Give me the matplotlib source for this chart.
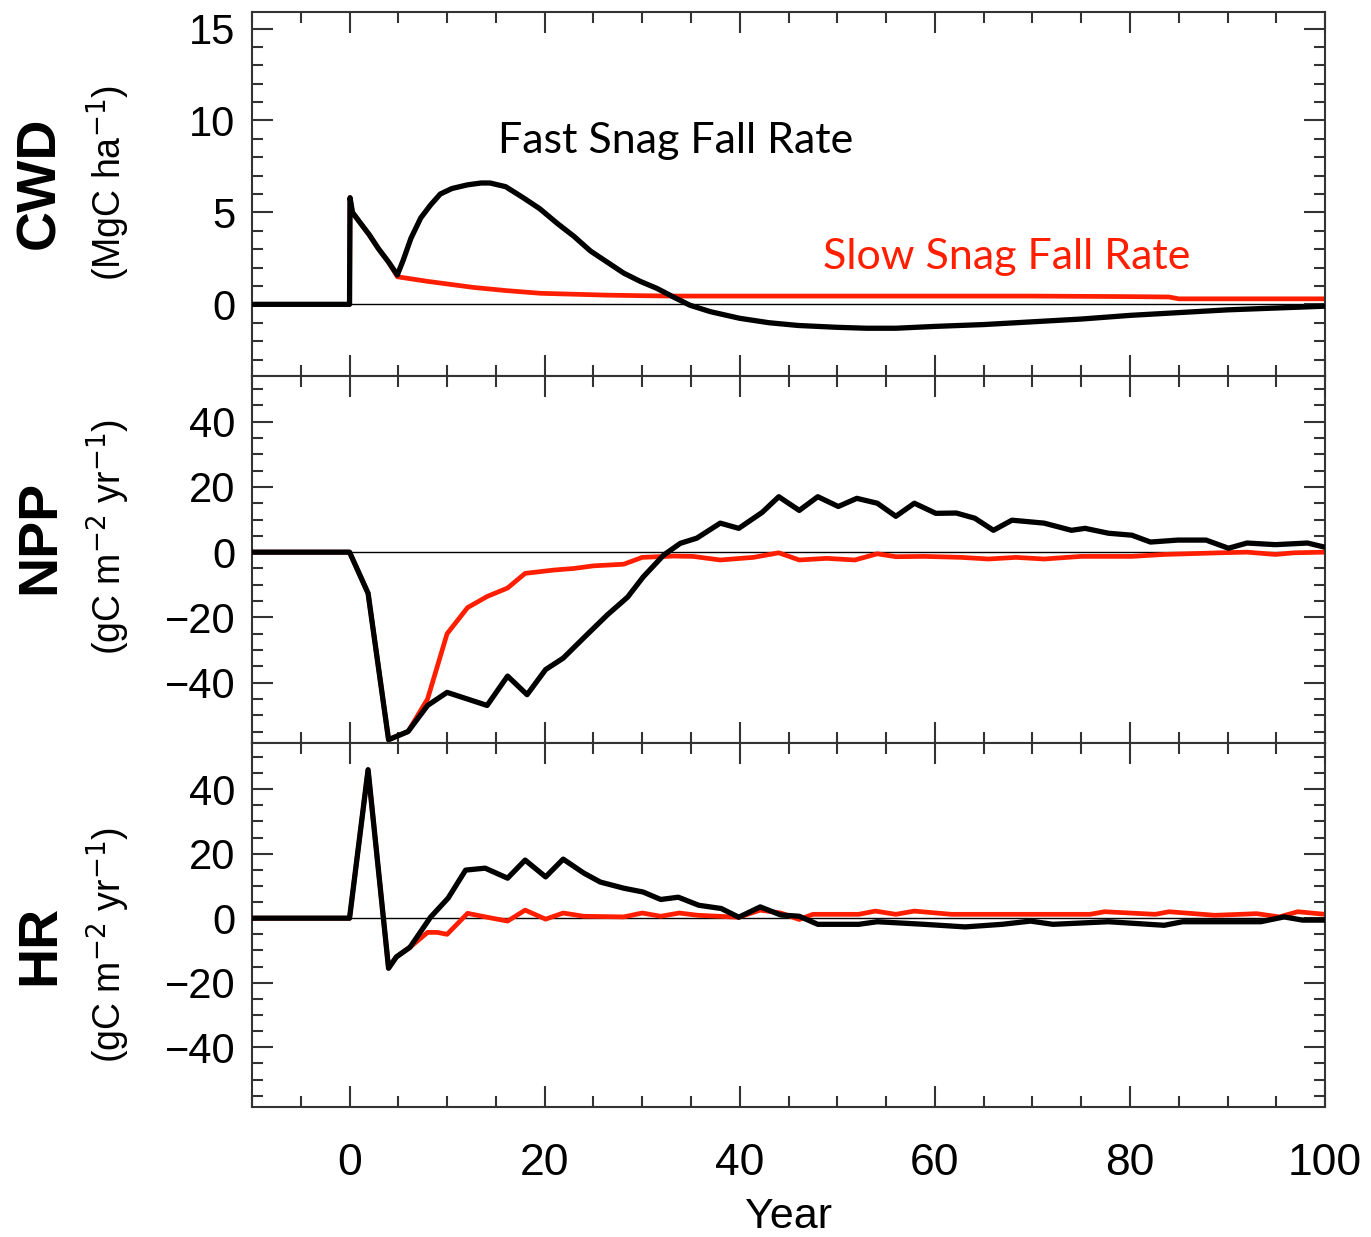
import numpy as np
import matplotlib
matplotlib.use("Agg")
import matplotlib.pyplot as plt
from matplotlib.ticker import MultipleLocator

# ---- data ----
cwd_fast_years = [-10, 0, 0.05, 0.3, 1, 2, 3, 4, 4.9, 5.5, 6.3, 7.3, 8.3, 9.3, 10.5, 12.1,
                  13.5, 14.4, 16, 17.8, 19.5, 21.3, 23, 24.7, 26.4, 28.1, 29.8, 31.5, 33.2,
                  34.9, 37, 40, 43, 46, 50, 53, 56, 60, 65, 70, 75, 80, 85, 90, 95, 100]
cwd_fast = [0, 0, 5.8, 5.0, 4.5, 3.8, 3.0, 2.3, 1.6, 2.4, 3.6, 4.7, 5.4, 6.0, 6.3, 6.5,
            6.6, 6.6, 6.4, 5.8, 5.2, 4.4, 3.7, 2.9, 2.3, 1.7, 1.25, 0.87, 0.4,
            -0.05, -0.4, -0.76, -1.0, -1.15, -1.25, -1.3, -1.3, -1.2, -1.1, -0.95, -0.8,
            -0.6, -0.45, -0.3, -0.2, -0.1]

cwd_slow_years = [-10, 0, 0.05, 0.3, 1, 2, 3, 4, 4.9, 8, 12.7, 16, 19.6, 23, 26.4, 30,
                  33.2, 40, 50, 60, 70, 80, 84, 85, 90, 100]
cwd_slow = [0, 0, 5.8, 5.0, 4.5, 3.8, 3.0, 2.3, 1.5, 1.25, 0.92, 0.75, 0.6, 0.55, 0.5, 0.47,
            0.45, 0.45, 0.45, 0.45, 0.45, 0.42, 0.4, 0.3, 0.3, 0.3]

npp_fast_years = [-10, 0, 1.9, 4.0, 6.0, 8.0, 10.0, 14.1, 16.2, 18.2, 20.1, 21.9, 24, 26.4,
                  28.5, 30.1, 32.2, 33.9, 35.6, 38.0, 39.9, 42.3, 44.0, 46.1, 48.0, 50.1,
                  52.0, 54.1, 56.0, 57.9, 60.1, 62.2, 64.1, 66.0, 67.9, 71.2, 74.0, 75.4,
                  77.8, 80.2, 82.1, 84.9, 87.8, 90.1, 92.0, 94.9, 98.2, 100]
npp_fast = [0, 0, -12.6, -57.5, -55, -47, -43, -47, -38, -43.7, -36, -32.5, -26.3, -19.3,
            -13.8, -7.6, -0.9, 2.7, 4.3, 8.9, 7.3, 12.2, 17, 12.8, 17, 14,
            16.5, 15, 11, 15, 11.9, 12, 10.4, 6.7, 9.8, 8.9, 6.7, 7.3,
            5.8, 5.2, 3.1, 3.7, 3.7, 1.2, 2.8, 2.3, 2.8, 1.5]

npp_slow_years = [-10, 0, 1.9, 4.0, 6.0, 8.0, 10.0, 12.1, 14.1, 16.2, 18.0, 20.9, 23.0,
                  25.0, 28.1, 30.0, 33.2, 35.2, 38.0, 41.4, 44.0, 46.1, 48.9, 51.8, 54.1,
                  56.0, 58.9, 62.7, 65.5, 68.3, 71.2, 75.0, 80.2, 83.5, 89.2, 92.0, 94.9,
                  96.8, 100]
npp_slow = [0, 0, -12.6, -57.5, -55, -45, -25, -17, -13.6, -11, -6.5, -5.5, -5.0,
            -4.2, -3.7, -1.6, -1.2, -1.3, -2.4, -1.6, -0.2, -2.4, -1.9, -2.4, -0.5,
            -1.4, -1.3, -1.6, -2.1, -1.6, -2.1, -1.3, -1.3, -0.7, -0.2, 0, -0.7,
            -0.2, 0]

hr_fast_years = [-10, 0, 1.9, 4.0, 4.8, 6.2, 8.3, 10.1, 11.9, 13.9, 16.2, 18.0, 20.1, 21.9,
                 24.0, 25.7, 28.1, 30.1, 31.9, 33.7, 35.8, 38.1, 39.9, 42.1, 44.2, 46.1,
                 48.0, 52.2, 54.1, 58.9, 63.1, 66.9, 69.8, 72.1, 77.8, 83.5, 85.4, 93.4,
                 95.8, 97.7, 100]
hr_fast = [0, 0, 46, -15.5, -12, -9, 0.3, 6.2, 14.9, 15.5, 12.4, 18, 12.8, 18.3,
           14, 11.2, 9.3, 8.1, 5.8, 6.5, 4, 3, 0.3, 3.5, 1, 0.6,
           -1.9, -1.9, -1.1, -1.9, -2.7, -1.9, -0.9, -1.9, -1.1, -2.2, -1.1, -1.1,
           0.4, -0.6, -0.6]

hr_slow_years = [-10, 0, 1.9, 4.0, 4.8, 6.2, 8.0, 9.0, 10.0, 12.1, 14.1, 16.2, 18.0, 20.1,
                 21.9, 24.0, 28.1, 30.0, 31.9, 33.8, 35.7, 39.9, 42.1, 44.2, 46.1, 47.5,
                 52.2, 53.9, 56.0, 57.9, 61.7, 75.9, 77.4, 82.6, 84.0, 88.7, 93.0, 95.3,
                 97.2, 100]
hr_slow = [0, 0, 46, -15.5, -12, -9, -4.4, -4.4, -5, 1.5, 0.3, -0.9, 2.5, -0.3,
           1.6, 0.6, 0.4, 1.6, 0.6, 1.6, 0.9, 0.3, 2.5, 1.6, -0.4, 1.2,
           1.2, 2.2, 1.2, 2.2, 1.2, 1.2, 2.0, 1.2, 2.0, 0.9, 1.4, 0.4,
           2.0, 1.2]

x_ticks = [0, 20, 40, 60, 80, 100]

RED = "#ff1e00"
SPINE = "#333333"
TICK_FONT = ["Liberation Sans", "DejaVu Sans"]
NOTE_FONT = ["Lato", "DejaVu Sans"]

fig = plt.figure(figsize=(13.71, 12.37), dpi=100)

# panel boxes in figure fractions (left, bottom, width, height)
L, W = 0.1838, 0.7827
ax_cwd = fig.add_axes([L, 0.6960, W, 0.2943])
ax_npp = fig.add_axes([L, 0.3994, W, 0.2966], sharex=ax_cwd)
ax_hr = fig.add_axes([L, 0.1051, W, 0.2943], sharex=ax_cwd)

panels = [
    (ax_cwd, cwd_fast_years, cwd_fast, cwd_slow_years, cwd_slow, (-3.9, 15.9), [0, 5, 10, 15], 1),
    (ax_npp, npp_fast_years, npp_fast, npp_slow_years, npp_slow, (-58.5, 54), [-40, -20, 0, 20, 40], 5),
    (ax_hr, hr_fast_years, hr_fast, hr_slow_years, hr_slow, (-58.5, 54.3), [-40, -20, 0, 20, 40], 5),
]

for ax, fx, fy, sx, sy, ylim, yt, minor in panels:
    ax.axhline(0, color="black", lw=1.0, zorder=1)
    ax.plot(sx, sy, color=RED, lw=3.4, zorder=2)
    ax.plot(fx, fy, color="black", lw=3.8, zorder=3)
    ax.set_xlim(-10, 100)
    ax.set_ylim(*ylim)
    ax.set_yticks(yt)
    ax.yaxis.set_minor_locator(MultipleLocator(minor))
    ax.xaxis.set_minor_locator(MultipleLocator(5))
    ax.tick_params(which="both", direction="in", top=True, right=True,
                   color=SPINE, width=1.5)
    ax.tick_params(which="major", length=15)
    ax.tick_params(which="minor", length=8)
    ax.tick_params(axis="y", which="major", labelsize=30, pad=12)
    for s in ax.spines.values():
        s.set_color(SPINE)
        s.set_linewidth(1.5)

# only the bottom panel shows year labels
for ax in (ax_cwd, ax_npp):
    ax.tick_params(axis="x", labelbottom=False)
ax_hr.set_xticks(x_ticks)
ax_hr.tick_params(axis="x", which="major", labelsize=32, pad=26)
ax_hr.set_xlabel("Year", fontsize=31, family=TICK_FONT, labelpad=9)

for ax in (ax_cwd, ax_npp, ax_hr):
    for lab in ax.get_yticklabels() + ax.get_xticklabels():
        lab.set_family(TICK_FONT)

# row labels
rows = [("CWD", "(MgC ha$^{-1}$)", 0.852),
        ("NPP", "(gC m$^{-2}$ yr$^{-1}$)", 0.566),
        ("HR", "(gC m$^{-2}$ yr$^{-1}$)", 0.236)]
for name, unit, yc in rows:
    fig.text(0.029, yc, name, rotation=90, ha="center", va="center",
             fontsize=40, fontweight="bold", family=TICK_FONT)
    fig.text(0.079, yc, unit, rotation=90, ha="center", va="center",
             fontsize=27, family=TICK_FONT)

# annotations
ax_cwd.text(33.4, 8.9, "Fast Snag Fall Rate", ha="center", va="center",
            fontsize=31, family=NOTE_FONT, color="black")
ax_cwd.text(67.4, 2.6, "Slow Snag Fall Rate", ha="center", va="center",
            fontsize=31, family=NOTE_FONT, color=RED)

fig.savefig("out.png", dpi=100)
